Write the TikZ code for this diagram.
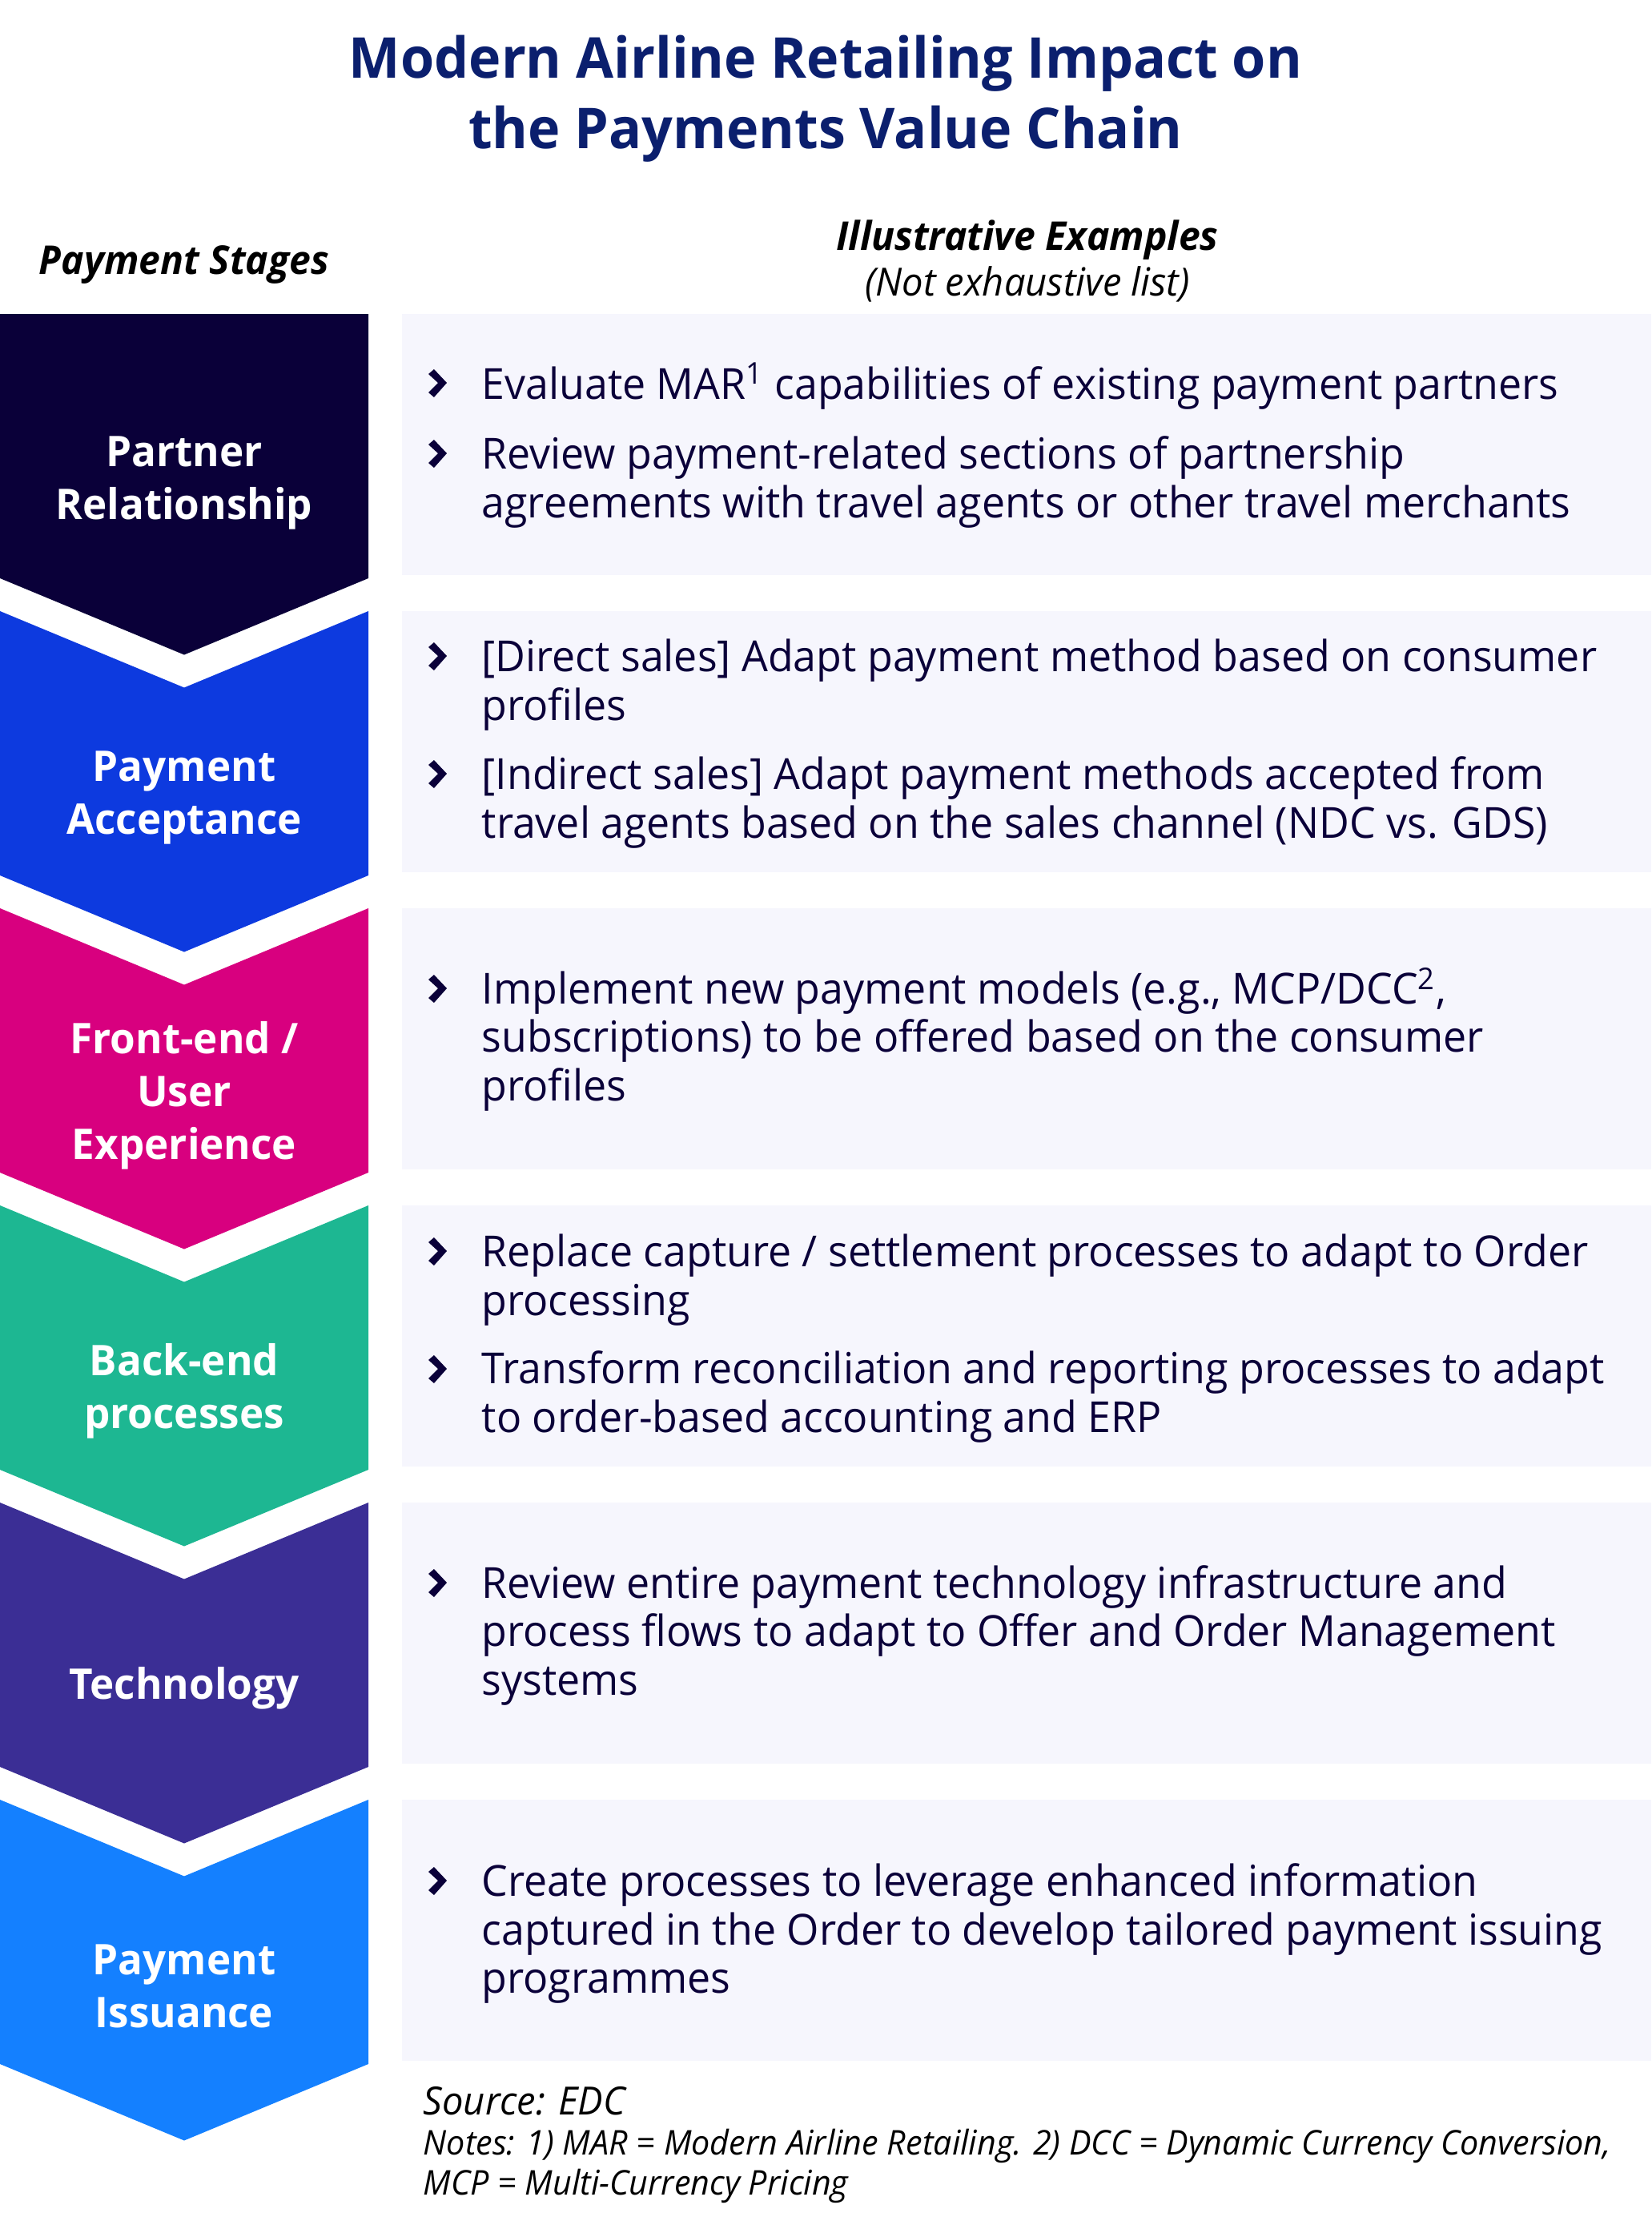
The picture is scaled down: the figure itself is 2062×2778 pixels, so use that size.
\documentclass[tikz,border=0pt]{standalone}
\usepackage{fontspec}
\setmainfont{Open Sans}[FakeStretch=0.97]

\definecolor{titleblue}{HTML}{0B1F6E}
\definecolor{chevnavy}{HTML}{0A0039}
\definecolor{chevblue}{HTML}{0D3ADF}
\definecolor{chevpink}{HTML}{D8007F}
\definecolor{chevgreen}{HTML}{1DB792}
\definecolor{chevpurple}{HTML}{3B2E95}
\definecolor{chevsky}{HTML}{1480FF}
\definecolor{boxfill}{HTML}{F6F6FD}

\begin{document}
\begin{tikzpicture}[x=0.01cm, y=-0.01cm,
    stage/.style={font=\bfseries\fontsize{15}{18.8}\selectfont, text=white, align=center},
    item/.style={anchor=base west, align=left, inner sep=0pt, text=chevnavy, font=\fontsize{15.2}{17.07}\selectfont},
    head/.style={anchor=base, font=\bfseries\itshape\fontsize{14.1}{16}\selectfont},
    bullet/.pic={\fill[chevnavy] (-5,-18) -- (11,-1) -- (-5,17) -- (-12,11) -- (0,-1) -- (-12,-12) -- cycle;}]
    \useasboundingbox (0,0) rectangle (2062,2778);

    % title
    \node[anchor=base, align=center, text=titleblue, font=\bfseries\fontsize{20}{25}\selectfont] (title) at (1031,185)
        {Modern Airline Retailing Impact on\\the Payments Value Chain};

    % column heads
    \node[head] (stages) at (230,342) {Payment Stages};
    \node[head] (examples) at (1283,312) {Illustrative Examples};
    \node[anchor=base, font=\itshape\fontsize{13.8}{16}\selectfont] (notlist) at (1283,369) {(Not exhaustive list)};

    % chevrons, first one with a flat top
    \fill[chevnavy] (0,392) -- (460,392) -- (460,722) -- (230,817.5) -- (0,722) -- cycle;
    \foreach \c [count=\i] in {chevblue,chevpink,chevgreen,chevpurple,chevsky}
        \fill[\c] (0,392+371*\i) -- ++(230,95.5) -- ++(230,-95.5) -- ++(0,330) -- ++(-230,95.5) -- ++(-230,-95.5) -- cycle;

    % example boxes
    \foreach \i in {0,...,5}
        \fill[boxfill] (502,392+371*\i) rectangle (2062,718+371*\i);

    % stage labels
    \node[stage] (partner) at (230,603) {Partner\\Relationship};
    \node[stage] (accept) at (230,996) {Payment\\Acceptance};
    \node[stage] (front) at (230,1368) {Front-end /\\User\\Experience};
    \node[stage] (back) at (230,1737) {Back-end\\processes};
    \node[stage] (tech) at (230,2108) {Technology};
    \node[stage] (issue) at (230,2480) {Payment\\Issuance};

    % examples (anchor is the baseline of the last line)
    \pic at (547,479) {bullet};
    \node[item] (t1a) at (601,498) {Evaluate MAR\textsuperscript{1} capabilities of existing payment partners};
    \pic at (547,567) {bullet};
    \node[item] (t1b) at (601,646) {Review payment-related sections of partnership\\agreements with travel agents or other travel merchants};

    \pic at (547,820) {bullet};
    \node[item] (t2a) at (601,899) {[Direct sales] Adapt payment method based on consumer\\profiles};
    \pic at (547,967) {bullet};
    \node[item] (t2b) at (601,1046) {[Indirect sales] Adapt payment methods accepted from\\travel agents based on the sales channel (NDC vs. GDS)};

    \pic at (547,1235) {bullet};
    \node[item] (t3a) at (601,1374) {Implement new payment models (e.g., MCP/DCC\textsuperscript{2},\\subscriptions) to be offered based on the consumer\\profiles};

    \pic at (547,1563) {bullet};
    \node[item] (t4a) at (601,1642) {Replace capture / settlement processes to adapt to Order\\processing};
    \pic at (547,1710) {bullet};
    \node[item] (t4b) at (601,1788) {Transform reconciliation and reporting processes to adapt\\to order-based accounting and ERP};

    \pic at (547,1977) {bullet};
    \node[item] (t5a) at (601,2116) {Review entire payment technology infrastructure and\\process flows to adapt to Offer and Order Management\\systems};

    \pic at (547,2349) {bullet};
    \node[item] (t6a) at (601,2488) {Create processes to leverage enhanced information\\captured in the Order to develop tailored payment issuing\\programmes};

    % source and notes
    \node[anchor=base west, inner sep=0pt, font=\itshape\fontsize{13.8}{15}\selectfont] (source) at (528,2640) {Source: EDC};
    \node[anchor=base west, align=left, inner sep=0pt, font=\itshape\fontsize{12.1}{14.2}\selectfont] (notes) at (528,2740)
        {Notes: 1) MAR = Modern Airline Retailing. 2) DCC = Dynamic Currency Conversion,\\MCP = Multi-Currency Pricing};
\end{tikzpicture}
\end{document}
